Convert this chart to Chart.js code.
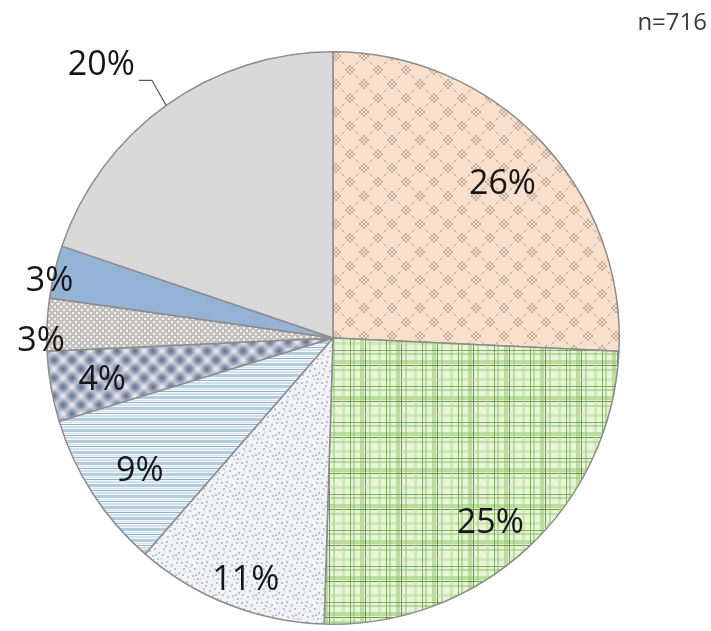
<!DOCTYPE html>
<html>
<head>
<meta charset="utf-8">
<script src="https://cdn.jsdelivr.net/npm/chart.js@4.4.1/dist/chart.umd.min.js"></script>
<style>
  html, body { margin: 0; padding: 0; background: #fff; }
  #wrap { width: 711px; height: 631px; position: relative; }
</style>
</head>
<body>
<div id="wrap"><canvas id="pieChart" width="711" height="631"></canvas></div>
<script>
// data (clockwise from 12 o'clock)
const categories = ["A", "B", "C", "D", "E", "F", "G", "H"];
const shares = [26, 25, 11, 9, 4, 3, 3, 20];
const shareLabels = ["26%", "25%", "11%", "9%", "4%", "3%", "3%", "20%"];
const sampleNote = "n=716";

// label placement tweaks (fraction of radius, angle nudge in degrees)
const labelRadius = [0.80, 0.85, 0.90, 0.82, 0.82, 1.02, 1.01, 1.25];
const labelShift = [1.4, 2.5, -1.6, -1.6, -0.7, -3.3, -2.1, -4.7];

function makePattern(w, h, draw) {
  const c = document.createElement("canvas");
  c.width = w;
  c.height = h;
  const g = c.getContext("2d");
  draw(g, w, h);
  return document.getElementById("pieChart").getContext("2d").createPattern(c, "repeat");
}

// peach lattice
const peach = makePattern(28, 28, (g, w, h) => {
  g.fillStyle = "#f8e0cd";
  g.fillRect(0, 0, w, h);
  g.strokeStyle = "#e9cdb9";
  g.lineWidth = 1;
  g.beginPath();
  g.moveTo(0, 0); g.lineTo(w, h);
  g.moveTo(w, 0); g.lineTo(0, h);
  g.stroke();
  g.fillStyle = "#c4ad9d";
  [[0, 0], [14, 14]].forEach(([cx, cy]) => {
    for (let dx = -4; dx <= 4; dx += 2) {
      for (let dy = -4; dy <= 4; dy += 2) {
        if (Math.abs(dx) + Math.abs(dy) <= 4 && (dx + dy) % 4 === 0) {
          [[0, 0], [w, 0], [0, h], [w, h]].forEach(([ox, oy]) => g.fillRect(cx + dx + ox - 1, cy + dy + oy - 1, 2, 2));
        }
      }
    }
  });
  g.fillStyle = "#d8bfac";
  g.fillRect(6, 6, 2, 2); g.fillRect(20, 20, 2, 2); g.fillRect(20, 6, 2, 2); g.fillRect(6, 20, 2, 2);
});

// green plaid
const plaid = makePattern(36, 36, (g, w, h) => {
  g.fillStyle = "#e8f5dc";
  g.fillRect(0, 0, w, h);
  const bands = [[0, 4, "rgba(150,200,110,0.55)"], [5, 1, "rgba(85,135,50,0.85)"], [9, 2, "rgba(150,200,110,0.55)"],
                 [18, 3, "rgba(185,220,150,0.55)"], [26, 1, "rgba(95,145,60,0.75)"], [29, 2, "rgba(140,190,100,0.5)"]];
  bands.forEach(([p, s, col]) => {
    g.fillStyle = col;
    g.fillRect(p, 0, s, h);
    g.fillRect(0, p, w, s);
  });
});

// light speckle
const speckle = makePattern(20, 20, (g, w, h) => {
  g.fillStyle = "#f1f3f6";
  g.fillRect(0, 0, w, h);
  g.fillStyle = "#bcc4cd";
  [[1, 2], [6, 1], [11, 4], [16, 2], [3, 8], [9, 10], [14, 8], [18, 12], [2, 14], [7, 16], [12, 15], [17, 18], [5, 5], [15, 14]].forEach(([x, y]) => {
    g.fillRect(x, y, 2, 2);
  });
  g.fillStyle = "#dae1e7";
  [[4, 11], [10, 6], [13, 18], [19, 5], [0, 18]].forEach(([x, y]) => g.fillRect(x, y, 2, 2));
});

// blue horizontal stripes
const stripes = makePattern(4, 11, (g, w, h) => {
  g.fillStyle = "#f2f8fc";
  g.fillRect(0, 0, w, h);
  g.fillStyle = "#b2cde0"; g.fillRect(0, 0, w, 3);
  g.fillStyle = "#d3e4f0"; g.fillRect(0, 4, w, 1);
  g.fillStyle = "#98b0c2"; g.fillRect(0, 6, w, 1);
  g.fillStyle = "#cfe1ee"; g.fillRect(0, 8, w, 2);
});

// blue-grey blotches
const blotch = makePattern(18, 18, (g, w, h) => {
  g.fillStyle = "#bcc2d2";
  g.fillRect(0, 0, w, h);
  [[0, 0], [18, 0], [0, 18], [18, 18], [9, 9]].forEach(([x, y]) => {
    const gr = g.createRadialGradient(x, y, 0, x, y, 6);
    gr.addColorStop(0, "#626c88");
    gr.addColorStop(1, "rgba(98,108,136,0)");
    g.fillStyle = gr;
    g.beginPath(); g.arc(x, y, 6, 0, Math.PI * 2); g.fill();
  });
  [[9, 0], [0, 9], [18, 9], [9, 18]].forEach(([x, y]) => {
    const gr = g.createRadialGradient(x, y, 0, x, y, 4);
    gr.addColorStop(0, "#eef0f5");
    gr.addColorStop(1, "rgba(238,240,245,0)");
    g.fillStyle = gr;
    g.beginPath(); g.arc(x, y, 4, 0, Math.PI * 2); g.fill();
  });
});

// grey dotted
const dotted = makePattern(6, 6, (g, w, h) => {
  g.fillStyle = "#c4c0be";
  g.fillRect(0, 0, w, h);
  g.fillStyle = "#f4f4f4";
  g.fillRect(0, 0, 2, 2);
  g.fillRect(3, 3, 2, 2);
});

const fills = [peach, plaid, speckle, stripes, blotch, dotted, "#95b3d7", "#d9d9d9"];

const labelPlugin = {
  id: "sliceLabels",
  afterDatasetsDraw(chart) {
    const ctx = chart.ctx;
    const arcs = chart.getDatasetMeta(0).data;
    ctx.save();
    ctx.font = "34px 'Open Sans'";
    ctx.fillStyle = "#161616";
    ctx.textAlign = "center";
    ctx.textBaseline = "middle";
    arcs.forEach((arc, i) => {
      const p = arc.getProps(["x", "y", "startAngle", "endAngle", "outerRadius"], true);
      const mid = (p.startAngle + p.endAngle) / 2;
      const a = mid + labelShift[i] * Math.PI / 180;
      const lx = p.x + Math.cos(a) * p.outerRadius * labelRadius[i];
      const ly = p.y + Math.sin(a) * p.outerRadius * labelRadius[i];
      ctx.fillText(shareLabels[i], lx, ly);
      if (labelRadius[i] > 1.1) {
        // leader line back to the slice edge
        const tw = ctx.measureText(shareLabels[i]).width;
        const ex = p.x + Math.cos(mid) * p.outerRadius;
        const ey = p.y + Math.sin(mid) * p.outerRadius;
        ctx.strokeStyle = "#595959";
        ctx.lineWidth = 1.2;
        ctx.beginPath();
        ctx.moveTo(lx + tw / 2 + 4, ly + 15);
        ctx.lineTo(lx + tw / 2 + 17, ly + 15);
        ctx.lineTo(ex, ey);
        ctx.stroke();
      }
    });
    ctx.font = "24px 'Open Sans'";
    ctx.fillStyle = "#3a3a3a";
    ctx.textAlign = "right";
    ctx.textBaseline = "alphabetic";
    ctx.fillText(sampleNote, 707, 30);
    ctx.restore();
  }
};

new Chart(document.getElementById("pieChart").getContext("2d"), {
  type: "pie",
  data: {
    labels: categories,
    datasets: [{
      data: shares,
      backgroundColor: fills,
      borderColor: "#8c8c8c",
      borderWidth: 1.5
    }]
  },
  options: {
    responsive: false,
    animation: false,
    events: [],
    layout: { padding: { left: 46, right: 91, top: 51, bottom: 6 } },
    plugins: {
      legend: { display: false },
      tooltip: { enabled: false }
    }
  },
  plugins: [labelPlugin]
});
</script>
</body>
</html>
